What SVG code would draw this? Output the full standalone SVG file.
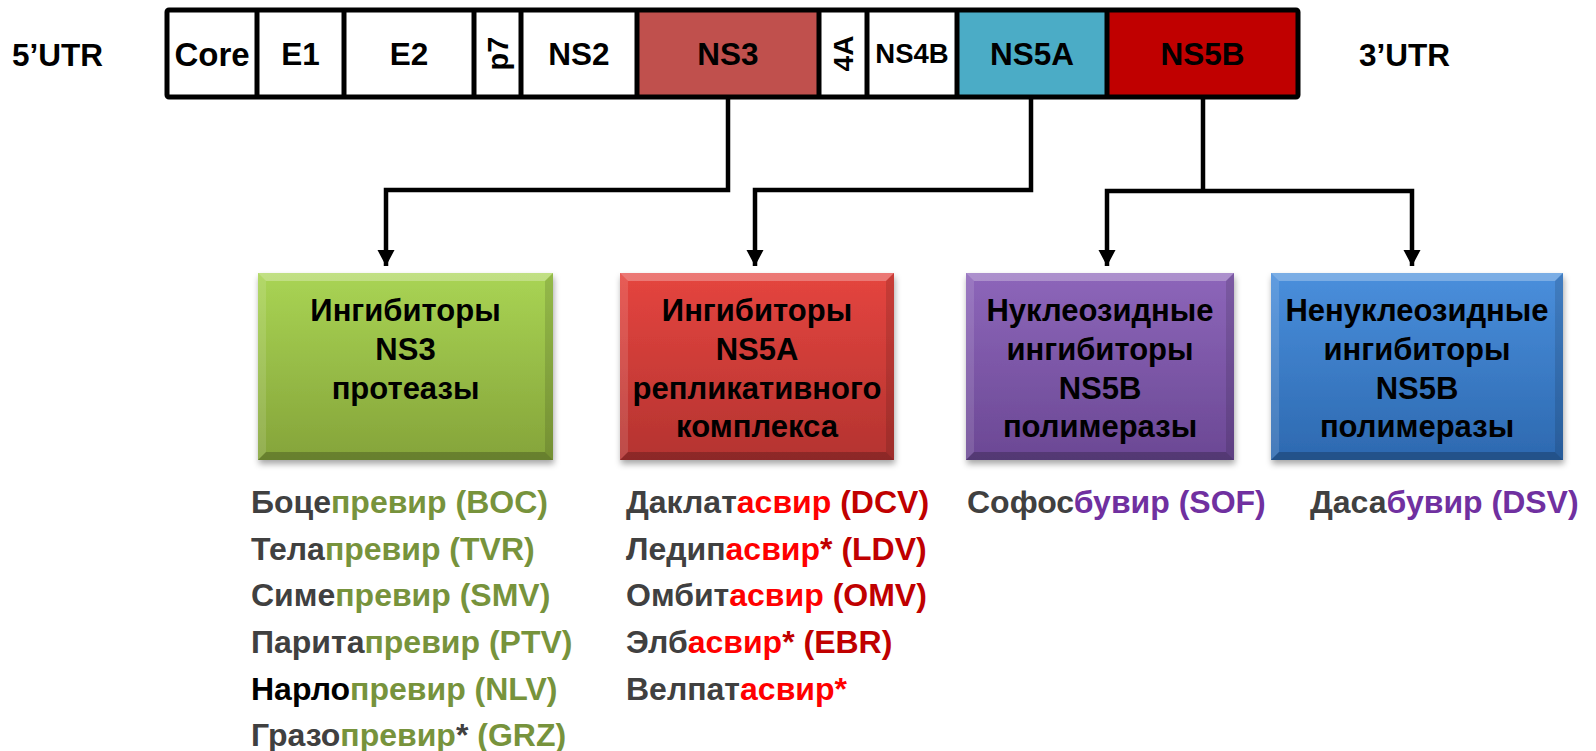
<svg xmlns="http://www.w3.org/2000/svg" width="1596" height="751" viewBox="0 0 1596 751">
<style>
.lbl{font-family:"Liberation Sans",Arial,sans-serif;font-weight:bold;fill:#000}
.hd{font-size:31.5px;text-anchor:middle}
.bx{font-size:31px;text-anchor:middle}
.dr{font-family:"Liberation Sans",Arial,sans-serif;font-weight:bold;font-size:32px;fill:#404040}
.gr{fill:#77933c}
.rd{fill:#ff0000}
.dk{fill:#c00000}
.pu{fill:#7030a0}
.conn{fill:none;stroke:#000;stroke-width:4.5;stroke-linejoin:miter}
.cell{stroke:#000;stroke-width:5}
.hi{fill:#fff;opacity:0.28}
.hi2{fill:#fff;opacity:0.12}
.sh{fill:#000;opacity:0.12}
.sh2{fill:#000;opacity:0.22}
</style>
<defs>
<marker id="arr" markerUnits="userSpaceOnUse" markerWidth="18" markerHeight="18" refX="16" refY="8.5" orient="auto">
<path d="M0,0 L16,8.5 L0,17 Z" fill="#000"/>
</marker>
<linearGradient id="gG" x1="0" y1="0" x2="0" y2="1"><stop offset="0" stop-color="#a9d454"/><stop offset="1" stop-color="#85a43a"/></linearGradient>
<linearGradient id="gR" x1="0" y1="0" x2="0" y2="1"><stop offset="0" stop-color="#e5453f"/><stop offset="1" stop-color="#b43330"/></linearGradient>
<linearGradient id="gP" x1="0" y1="0" x2="0" y2="1"><stop offset="0" stop-color="#8d66ba"/><stop offset="1" stop-color="#6b4894"/></linearGradient>
<linearGradient id="gB" x1="0" y1="0" x2="0" y2="1"><stop offset="0" stop-color="#4a8fdc"/><stop offset="1" stop-color="#2d69b0"/></linearGradient>
<filter id="ds" x="-5%" y="-5%" width="112%" height="115%"><feDropShadow dx="1" dy="4" stdDeviation="3" flood-color="#000" flood-opacity="0.35"/></filter>
</defs>

<g id="genome">
<rect x="167" y="10" width="1131" height="87" fill="#fff"/>
<rect x="637" y="10" width="182" height="87" fill="#c0504d"/>
<rect x="957" y="10" width="150" height="87" fill="#4bacc6"/>
<rect x="1107" y="10" width="191" height="87" fill="#c00000"/>
<g class="cell">
<line x1="257" y1="10" x2="257" y2="97"/>
<line x1="344" y1="10" x2="344" y2="97"/>
<line x1="474" y1="10" x2="474" y2="97"/>
<line x1="521" y1="10" x2="521" y2="97"/>
<line x1="637" y1="10" x2="637" y2="97"/>
<line x1="819" y1="10" x2="819" y2="97"/>
<line x1="867" y1="10" x2="867" y2="97"/>
<line x1="957" y1="10" x2="957" y2="97"/>
<line x1="1107" y1="10" x2="1107" y2="97"/>
</g>
<rect x="167" y="10" width="1131" height="87" rx="2" fill="none" stroke="#000" stroke-width="5"/>
<text class="lbl" font-size="33" text-anchor="middle" x="212" y="66">Core</text>
<text class="lbl hd" x="300.5" y="65">E1</text>
<text class="lbl hd" x="409" y="65">E2</text>
<text class="lbl" font-size="29" text-anchor="middle" transform="translate(508,53.5) rotate(-90)">p7</text>
<text class="lbl hd" x="579" y="65">NS2</text>
<text class="lbl hd" x="728" y="65">NS3</text>
<text class="lbl" font-size="28" text-anchor="middle" transform="translate(853,53.5) rotate(-90)">4A</text>
<text class="lbl" font-size="27.5" text-anchor="middle" x="912" y="63">NS4B</text>
<text class="lbl hd" x="1032" y="65">NS5A</text>
<text class="lbl hd" x="1202.5" y="65">NS5B</text>
</g>
<g id="utr5"><text class="lbl" font-size="31.5" x="12" y="66">5’UTR</text></g>
<g id="utr3"><text class="lbl" font-size="31.5" x="1359" y="66">3’UTR</text></g>

<g id="connectors">
<path class="conn" d="M728,99 V190 H386 V266" marker-end="url(#arr)"/>
<path class="conn" d="M1031,99 V190 H755 V266" marker-end="url(#arr)"/>
<path class="conn" d="M1203,99 V191"/>
<path class="conn" d="M1203,191 H1107 V266" marker-end="url(#arr)"/>
<path class="conn" d="M1203,191 H1412 V266" marker-end="url(#arr)"/>
</g>

<g id="box-ns3">
<rect x="258" y="273" width="295" height="187" fill="url(#gG)" filter="url(#ds)"/>
<polygon class="hi" points="258,273 553,273 545,281 266,281"/>
<polygon class="hi2" points="258,273 266,281 266,452 258,460"/>
<polygon class="sh" points="553,273 553,460 545,452 545,281"/>
<polygon class="sh2" points="258,460 553,460 545,452 266,452"/>
<text class="lbl bx" x="405.5" y="321">Ингибиторы</text>
<text class="lbl bx" x="405.5" y="360">NS3</text>
<text class="lbl bx" x="405.5" y="399">протеазы</text>
</g>

<g id="box-ns5a">
<rect x="620" y="273" width="274" height="187" fill="url(#gR)" filter="url(#ds)"/>
<polygon class="hi" points="620,273 894,273 886,281 628,281"/>
<polygon class="hi2" points="620,273 628,281 628,452 620,460"/>
<polygon class="sh" points="894,273 894,460 886,452 886,281"/>
<polygon class="sh2" points="620,460 894,460 886,452 628,452"/>
<text class="lbl bx" x="757" y="321">Ингибиторы</text>
<text class="lbl bx" x="757" y="360">NS5A</text>
<text class="lbl bx" x="757" y="399">репликативного</text>
<text class="lbl bx" x="757" y="437">комплекса</text>
</g>

<g id="box-ns5b-nuc">
<rect x="966" y="273" width="268" height="187" fill="url(#gP)" filter="url(#ds)"/>
<polygon class="hi" points="966,273 1234,273 1226,281 974,281"/>
<polygon class="hi2" points="966,273 974,281 974,452 966,460"/>
<polygon class="sh" points="1234,273 1234,460 1226,452 1226,281"/>
<polygon class="sh2" points="966,460 1234,460 1226,452 974,452"/>
<text class="lbl bx" x="1100" y="321">Нуклеозидные</text>
<text class="lbl bx" x="1100" y="360">ингибиторы</text>
<text class="lbl bx" x="1100" y="399">NS5B</text>
<text class="lbl bx" x="1100" y="437">полимеразы</text>
</g>

<g id="box-ns5b-nonnuc">
<rect x="1271" y="273" width="292" height="187" fill="url(#gB)" filter="url(#ds)"/>
<polygon class="hi" points="1271,273 1563,273 1555,281 1279,281"/>
<polygon class="hi2" points="1271,273 1279,281 1279,452 1271,460"/>
<polygon class="sh" points="1563,273 1563,460 1555,452 1555,281"/>
<polygon class="sh2" points="1271,460 1563,460 1555,452 1279,452"/>
<text class="lbl bx" x="1417" y="321">Ненуклеозидные</text>
<text class="lbl bx" x="1417" y="360">ингибиторы</text>
<text class="lbl bx" x="1417" y="399">NS5B</text>
<text class="lbl bx" x="1417" y="437">полимеразы</text>
</g>

<g id="list-ns3">
<text class="dr" x="251" y="513">Боце<tspan class="gr">превир (BOC)</tspan></text>
<text class="dr" x="251" y="560">Тела<tspan class="gr">превир (TVR)</tspan></text>
<text class="dr" x="251" y="606">Симе<tspan class="gr">превир (SMV)</tspan></text>
<text class="dr" x="251" y="653">Парита<tspan class="gr">превир (PTV)</tspan></text>
<text class="dr" x="251" y="700"><tspan fill="#000">Нарло</tspan><tspan class="gr">превир (NLV)</tspan></text>
<text class="dr" x="251" y="746">Гразо<tspan class="gr">превир</tspan>* <tspan class="gr">(GRZ)</tspan></text>
</g>

<g id="list-ns5a">
<text class="dr" x="626" y="513">Даклат<tspan class="rd">асвир</tspan> <tspan class="dk">(DCV)</tspan></text>
<text class="dr" x="626" y="560">Ледип<tspan class="rd">асвир</tspan><tspan class="dk">* (LDV)</tspan></text>
<text class="dr" x="626" y="606">Омбит<tspan class="rd">асвир</tspan> <tspan class="dk">(OMV)</tspan></text>
<text class="dr" x="626" y="653">Элб<tspan class="rd">асвир</tspan><tspan class="dk">* (EBR)</tspan></text>
<text class="dr" x="626" y="700">Велпат<tspan class="rd">асвир*</tspan></text>
</g>

<g id="list-ns5b">
<text class="dr" x="967" y="513">Софос<tspan class="pu">бувир (SOF)</tspan></text>
<text class="dr" x="1310" y="513">Даса<tspan class="pu">бувир (DSV)</tspan></text>
</g>
</svg>
